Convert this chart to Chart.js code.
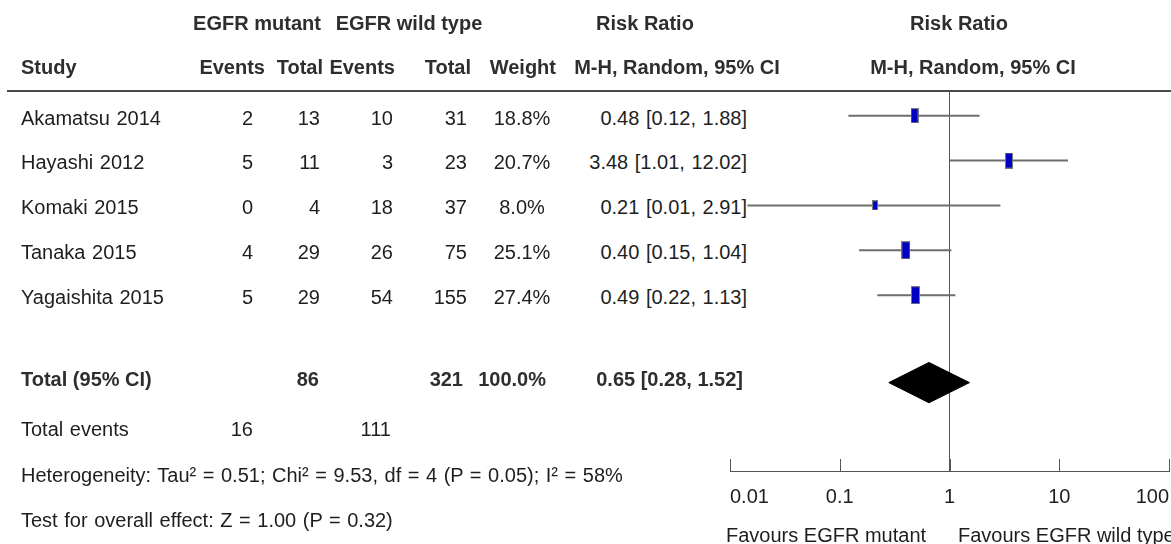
<!doctype html>
<html lang="en">
<head>
<meta charset="utf-8">
<title>Forest plot - EGFR mutant vs EGFR wild type</title>
<script src="https://cdn.jsdelivr.net/npm/chart.js@4/dist/chart.umd.min.js"></script>
<style>
  html, body { margin: 0; padding: 0; background: #fff; }
  #wrap {
    position: relative; width: 1171px; height: 544px; overflow: hidden;
    font-family: "Liberation Sans", Arial, sans-serif; font-size: 20px; color: #1e1e1e;
  }
  #plot { position: absolute; left: 0; top: 0; }
  .t { position: absolute; white-space: nowrap; line-height: 22px; word-spacing: 1px; }
  .b { font-weight: bold; color: #2e2e2e; word-spacing: 0; }
  .ci { background: #fff; }
  .fav { word-spacing: 0; }
  .rule { position: absolute; left: 7px; top: 90px; width: 1164px; height: 2px; background: #4a4a4a; }
</style>
</head>
<body>
<div id="wrap">
  <canvas id="plot" width="1171" height="544"></canvas>
  <div class="rule"></div>
</div>
<script>
// study level data
const studies = ["Akamatsu 2014", "Hayashi 2012", "Komaki 2015", "Tanaka 2015", "Yagaishita 2015"];
const mutEvents = [2, 5, 0, 4, 5];
const mutTotal = [13, 11, 4, 29, 29];
const wtEvents = [10, 3, 18, 26, 54];
const wtTotal = [31, 23, 37, 75, 155];
const weights = [18.8, 20.7, 8.0, 25.1, 27.4];
const riskRatio = [0.48, 3.48, 0.21, 0.40, 0.49];
const ciLow = [0.12, 1.01, 0.01, 0.15, 0.22];
const ciHigh = [1.88, 12.02, 2.91, 1.04, 1.13];

// pooled estimate
const pooledRR = 0.65;
const pooledLow = 0.28;
const pooledHigh = 1.52;
const totalMut = 86;
const totalWt = 321;
const eventsMut = 16;
const eventsWt = 111;

// axis
const tickValues = [0.01, 0.1, 1, 10, 100];
const tickLabels = ["0.01", "0.1", "1", "10", "100"];

const FONT = '"Liberation Sans", Arial, sans-serif';
const TOTAL_ROW = 5.95;
const DIAMOND_HALF = 0.45;

const wrap = document.getElementById("wrap");
function put(text, x, y, align, cls) {
  const el = document.createElement("div");
  el.className = "t" + (cls ? " " + cls : "");
  el.textContent = text;
  el.style.left = x + "px";
  el.style.top = y + "px";
  const tx = align === "right" ? "-100%" : align === "center" ? "-50%" : "0";
  el.style.transform = "translate(" + tx + ", -50%)";
  wrap.appendChild(el);
}

// header
put("EGFR mutant", 257, 23, "center", "b");
put("EGFR wild type", 409, 23, "center", "b");
put("Risk Ratio", 645, 23, "center", "b");
put("Risk Ratio", 959, 23, "center", "b");
put("Study", 21, 67, "left", "b");
put("Events", 265, 67, "right", "b");
put("Total", 323, 67, "right", "b");
put("Events", 395, 67, "right", "b");
put("Total", 471, 67, "right", "b");
put("Weight", 556, 67, "right", "b");
put("M-H, Random, 95% CI", 677, 67, "center", "b");
put("M-H, Random, 95% CI", 973, 67, "center", "b");

const fmtCI = (e, l, h) => e.toFixed(2) + " [" + l.toFixed(2) + ", " + h.toFixed(2) + "]";
studies.forEach((s, i) => {
  const y = 117.5 + 44.8 * i;
  put(s, 21, y, "left");
  put(String(mutEvents[i]), 253, y, "right");
  put(String(mutTotal[i]), 320, y, "right");
  put(String(wtEvents[i]), 393, y, "right");
  put(String(wtTotal[i]), 467, y, "right");
  put(weights[i].toFixed(1) + "%", 522, y, "center");
  put(fmtCI(riskRatio[i], ciLow[i], ciHigh[i]), 747, y, "right", "ci");
});

put("Total (95% CI)", 21, 379, "left", "b");
put(String(totalMut), 319, 379, "right", "b");
put(String(totalWt), 463, 379, "right", "b");
put(weights.reduce((a, b) => a + b, 0).toFixed(1) + "%", 546, 379, "right", "b");
put(fmtCI(pooledRR, pooledLow, pooledHigh), 743, 379, "right", "b");

put("Total events", 21, 429, "left");
put(String(eventsMut), 253, 429, "right");
put(String(eventsWt), 391, 429, "right");
put("Heterogeneity: Tau\u00b2 = 0.51; Chi\u00b2 = 9.53, df = 4 (P = 0.05); I\u00b2 = 58%", 21, 475, "left");
put("Test for overall effect: Z = 1.00 (P = 0.32)", 21, 520, "left");
put("Favours EGFR mutant", 726, 535, "left", "fav");
put("Favours EGFR wild type", 958, 535, "left", "fav");

// box markers, area follows the weight
const boxes = weights.map(w => {
  const h = Math.round(3.5 * Math.sqrt(w));
  const wd = Math.max(6, Math.round(h * 0.5));
  const c = document.createElement("canvas");
  c.width = wd; c.height = h;
  const g = c.getContext("2d");
  g.fillStyle = "#7a7a7a";
  g.fillRect(0, 0, wd, h);
  g.fillStyle = "#0000c4";
  g.fillRect(1, 1, wd - 2, h - 2);
  return c;
});

const whiskers = studies.map((s, i) => ({
  label: s,
  data: [{ x: ciLow[i], y: i }, { x: ciHigh[i], y: i }],
  showLine: true,
  borderColor: "#6e6e6e",
  borderWidth: 2,
  pointRadius: 0,
}));

const upTicks = {
  id: "upTicks",
  afterDatasetsDraw(chart) {
    const x = chart.scales.x;
    const ctx = chart.ctx;
    ctx.save();
    ctx.strokeStyle = "#555";
    ctx.lineWidth = 1;
    tickValues.forEach(v => {
      const px = Math.round(x.getPixelForValue(v)) + 0.5;
      ctx.beginPath();
      ctx.moveTo(px, x.top - 12);
      ctx.lineTo(px, x.top);
      ctx.stroke();
    });
    ctx.restore();
  }
};

new Chart(document.getElementById("plot"), {
  type: "scatter",
  data: {
    datasets: [
      // first dataset is painted last, so the boxes sit on top of the whiskers
      {
        label: "Studies",
        data: riskRatio.map((v, i) => ({ x: v, y: i })),
        pointStyle: ctx => boxes[ctx.dataIndex],
        pointRadius: 8,
      },
      ...whiskers,
      {
        label: "Total (95% CI)",
        data: [
          { x: pooledLow, y: TOTAL_ROW },
          { x: pooledRR, y: TOTAL_ROW - DIAMOND_HALF },
          { x: pooledHigh, y: TOTAL_ROW },
          { x: pooledRR, y: TOTAL_ROW + DIAMOND_HALF },
          { x: pooledLow, y: TOTAL_ROW },
        ],
        showLine: true,
        fill: "shape",
        backgroundColor: "#000",
        borderColor: "#000",
        borderWidth: 1,
        pointRadius: 0,
        tension: 0,
      },
    ],
  },
  options: {
    responsive: false,
    animation: false,
    layout: { autoPadding: false, padding: { left: 730, right: 2, top: 91, bottom: 0 } },
    plugins: { legend: { display: false }, tooltip: { enabled: false } },
    scales: {
      x: {
        type: "logarithmic",
        min: 0.01,
        max: 100,
        afterBuildTicks: s => { s.ticks = tickValues.map(v => ({ value: v })); },
        afterFit: s => { s.height = 73; s.paddingLeft = 0; s.paddingRight = 0; },
        ticks: {
          callback: (v, i) => tickLabels[i],
          align: "inner",
          autoSkip: false,
          maxRotation: 0,
          padding: 14,
          color: "#1e1e1e",
          font: { family: FONT, size: 20 },
        },
        grid: {
          drawTicks: false,
          color: ctx => (ctx.tick && ctx.tick.value === 1 ? "#555" : "rgba(0,0,0,0)"),
          lineWidth: 1,
        },
        border: { display: true, color: "#555", width: 1 },
      },
      y: {
        type: "linear",
        min: -0.55,
        max: 7.92,
        reverse: true,
        display: false,
      },
    },
  },
  plugins: [upTicks],
});
</script>
</body>
</html>
